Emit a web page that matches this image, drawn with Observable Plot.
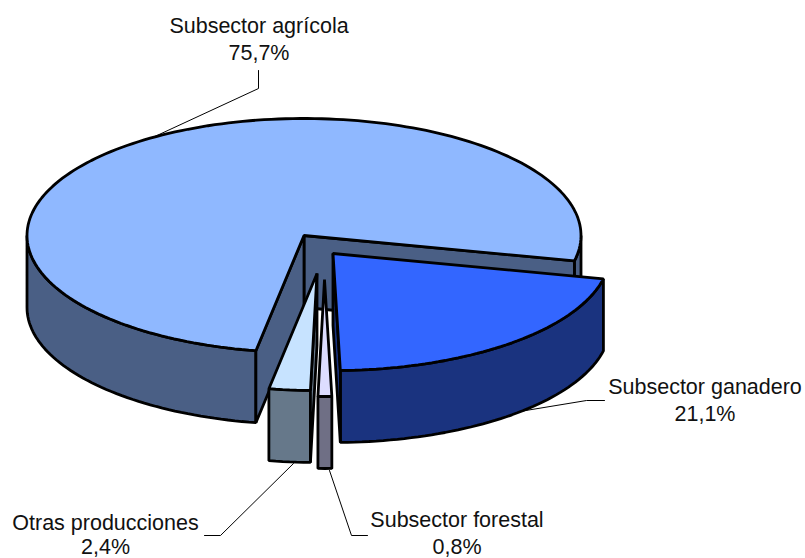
<!DOCTYPE html>
<html><head><meta charset="utf-8">
<script src="https://cdn.jsdelivr.net/npm/d3@7"></script>
<script src="https://cdn.jsdelivr.net/npm/@observablehq/plot@0.6"></script>
<style>html,body{margin:0;padding:0;background:#fff}svg{display:block}</style>
</head><body><div id="chart"></div>
<script>
const categories = ["Subsector agrícola", "Subsector ganadero", "Subsector forestal", "Otras producciones"];
const shares = [75.7, 21.1, 0.8, 2.4];
const shareLabels = ["75,7%", "21,1%", "0,8%", "2,4%"];
const topColors = ["#8FB8FF", "#3366FF", "#DDDDFF", "#C7E3FF"];
const sideColors = ["#4A5F85", "#1A337F", "#6F6F85", "#66788A"];

// projection of the tilted pie
const cx = 303.5, cy = 235, rx = 277, ry = 117, depth = 72, startDeg = 100;
const explode = [[0, 0], [29, 18], [20.5, 44], [13, 38]];
const total = d3.sum(shares);

const pt = (c, deg, dz = 0) => {
  const a = deg * Math.PI / 180;
  return {x: c[0] + rx * Math.cos(a), y: c[1] + ry * Math.sin(a) + dz};
};
const arc = (c, a0, a1, dz = 0) => {
  const n = Math.max(2, Math.ceil(Math.abs(a1 - a0) / 1.5));
  return d3.range(n + 1).map(i => pt(c, a0 + (a1 - a0) * i / n, dz));
};
const faces = [];
let acc = startDeg;
const slices = shares.map((v, i) => {
  const a0 = acc, a1 = acc + v / total * 360; acc = a1;
  return {i, a0, a1, c: [cx + explode[i][0], cy + explode[i][1]]};
});
const cutWall = (s, deg) => {
  const apex = {x: s.c[0], y: s.c[1]}, tip = pt(s.c, deg);
  return [apex, tip, {x: tip.x, y: tip.y + depth}, {x: apex.x, y: apex.y + depth}];
};
const outerWalls = s => {
  // the part of the rim facing the viewer: sin(angle) > 0
  const out = [];
  for (const k of [0, 360]) {
    const a0 = Math.max(s.a0, k), a1 = Math.min(s.a1, k + 180);
    if (a1 > a0) out.push([...arc(s.c, a0, a1), ...arc(s.c, a1, a0, depth)]);
  }
  return out;
};
const topFace = s => [{x: s.c[0], y: s.c[1]}, ...arc(s.c, s.a0, s.a1)];

// back to front: agrícola, otras, forestal, ganadero
for (const i of [0, 3, 2, 1]) {
  const s = slices[i];
  for (const w of outerWalls(s)) faces.push({pts: w, fill: sideColors[i]});
  if (i === 0) {
    faces.push({pts: cutWall(s, s.a1), fill: sideColors[i]});
    faces.push({pts: cutWall(s, s.a0), fill: sideColors[i]});
  }
  if (i === 1) faces.push({pts: cutWall(s, s.a1), fill: sideColors[i]});
  if (i === 3) faces.push({pts: cutWall(s, s.a0), fill: sideColors[i]});
  faces.push({pts: topFace(s), fill: topColors[i]});
}

const leaders = [
  [{x: 258, y: 70}, {x: 258, y: 88}, {x: 150, y: 138}],
  [{x: 604, y: 400}, {x: 586, y: 400}, {x: 507, y: 413}],
  [{x: 367, y: 535}, {x: 351, y: 535}, {x: 329, y: 470}],
  [{x: 204, y: 535}, {x: 220, y: 535}, {x: 293, y: 463}]
];
const labelAt = [[258.5, 26, 53], [704.5, 387, 414], [456.5, 520, 547], [105, 523, 546.5]];
const labels = categories.flatMap((c, i) => [
  {x: labelAt[i][0], y: labelAt[i][1], t: c},
  {x: labelAt[i][0], y: labelAt[i][2], t: shareLabels[i]}
]);

const plot = Plot.plot({
  width: 805, height: 558,
  margin: 0,
  x: {domain: [0, 805], axis: null},
  y: {domain: [558, 0], axis: null},
  style: {background: "#fff"},
  marks: [
    ...leaders.map(l => Plot.line(l, {x: "x", y: "y", stroke: "#000", strokeWidth: 1})),
    ...faces.map(f => Plot.line(f.pts, {
      x: "x", y: "y", fill: f.fill, stroke: "#000", strokeWidth: 2.8,
      curve: "linear-closed", strokeLinejoin: "miter"
    })),
    Plot.text(labels, {x: "x", y: "y", text: "t", fontSize: 21.5, fill: "#111",
      fontFamily: "Liberation Sans", textAnchor: "middle"})
  ]
});
document.getElementById("chart").append(plot);
</script></body></html>
